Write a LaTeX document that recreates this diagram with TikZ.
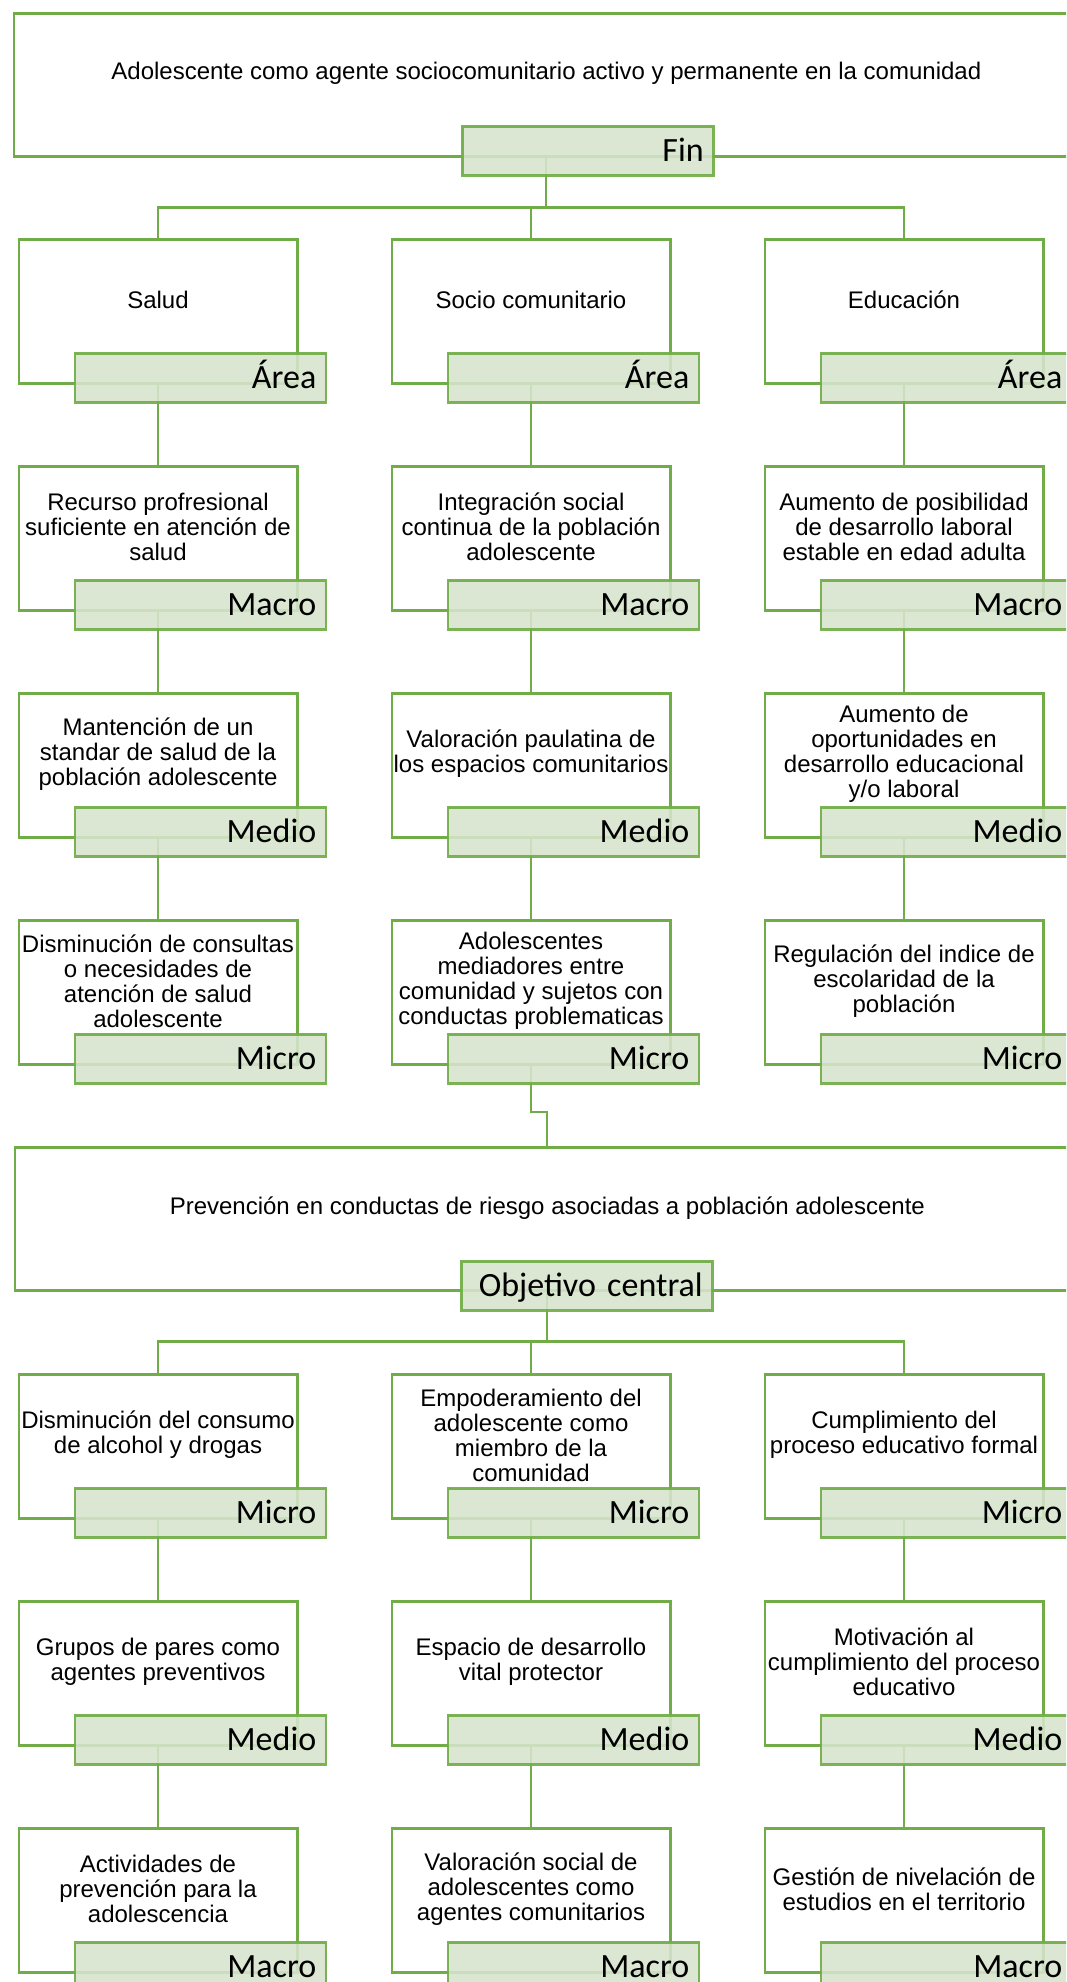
\documentclass[tikz,border=0pt]{standalone}
\usepackage{fontspec}
\setmainfont{Liberation Sans}
\newfontfamily\labfont{Carlito}
\usetikzlibrary{calc}
\definecolor{gline}{RGB}{112,173,71}
\definecolor{gfill}{RGB}{215,228,206}
\tikzset{
  cellbox/.style={draw=gline, line width=2.5pt, fill=white, minimum width=278.5pt, minimum height=144pt, inner sep=0pt},
  bigbox/.style={cellbox, minimum width=1065pt, minimum height=143pt},
  celltext/.style={align=center, inner sep=0pt, font=\fontsize{24}{25}\selectfont},
  celllab/.style={draw=gline, line width=2.5pt, fill=gfill, fill opacity=0.88, draw opacity=0.92, text opacity=1,
    minimum width=251pt, minimum height=49pt, text width=232pt, inner xsep=9.5pt, inner ysep=0pt,
    align=right, font=\labfont\fontsize{34}{35}\selectfont, text height=22pt, text depth=0pt},
  conn/.style={draw=gline, line width=2.2pt}
}
\newcommand\mkbox[3]{\node[cellbox, anchor=north west] (#1) at (#2,#3) {};}
\newcommand\mktext[3]{%
  \node[celltext] (#1t) at ($(#1.north)+(0,62)$) {#2};
  \node[celllab, anchor=north west] (#1l) at ($(#1.south west)+(56,-32.5)$) {#3};}
\begin{document}
\begin{tikzpicture}[x=1pt,y=-1pt]
\useasboundingbox (0,0) rectangle (1066,1982);
\clip (0,0) rectangle (1066,1982);
\fill[white] (0,0) rectangle (1066,1982);
% ---- boxes
\node[bigbox, anchor=north west] (fin) at (12.6,12) {};
\mkbox{b11}{17.5}{238}\mkbox{b12}{390.5}{238}\mkbox{b13}{763.5}{238}
\mkbox{b21}{17.5}{465}\mkbox{b22}{390.5}{465}\mkbox{b23}{763.5}{465}
\mkbox{b31}{17.5}{692}\mkbox{b32}{390.5}{692}\mkbox{b33}{763.5}{692}
\mkbox{b41}{17.5}{919}\mkbox{b42}{390.5}{919}\mkbox{b43}{763.5}{919}
\node[bigbox, anchor=north west] (obj) at (13.6,1146) {};
\mkbox{b51}{17.5}{1373}\mkbox{b52}{390.5}{1373}\mkbox{b53}{763.5}{1373}
\mkbox{b61}{17.5}{1600}\mkbox{b62}{390.5}{1600}\mkbox{b63}{763.5}{1600}
\mkbox{b71}{17.5}{1827}\mkbox{b72}{390.5}{1827}\mkbox{b73}{763.5}{1827}
% ---- connectors
\coordinate (bus1) at ($(fin.south)+(0,50)$);
\draw[conn] (fin.south) -- (bus1);
\draw[conn] (bus1) -| (b11.north);
\draw[conn] (bus1) -| (b12.north);
\draw[conn] (bus1) -| (b13.north);
\foreach \c in {1,2,3}{
  \draw[conn] (b1\c.south) -- (b2\c.north);
  \draw[conn] (b2\c.south) -- (b3\c.north);
  \draw[conn] (b3\c.south) -- (b4\c.north);
  \draw[conn] (b5\c.south) -- (b6\c.north);
  \draw[conn] (b6\c.south) -- (b7\c.north);
}
\coordinate (jog) at ($(obj.north)+(0,-34)$);
\draw[conn] (b42.south) |- (jog) -- (obj.north);
\coordinate (bus2) at ($(obj.south)+(0,50)$);
\draw[conn] (obj.south) -- (bus2);
\draw[conn] (bus2) -| (b51.north);
\draw[conn] (bus2) -| (b52.north);
\draw[conn] (bus2) -| (b53.north);
% ---- texts and labels
\node[celltext] (fint) at ($(fin.north)+(0,61.5)$) {Adolescente como agente sociocomunitario activo y permanente en la comunidad};
\node[celllab, anchor=north west] (finl) at ($(fin.south west)+(448.4,-32.5)$) {Fin};
\mktext{b11}{Salud}{Área}
\mktext{b12}{Socio comunitario}{Área}
\mktext{b13}{Educación}{Área}
\mktext{b21}{Recurso profresional\\suficiente en atención de\\salud}{Macro}
\mktext{b22}{Integración social\\continua de la población\\adolescente}{Macro}
\mktext{b23}{Aumento de posibilidad\\de desarrollo laboral\\estable en edad adulta}{Macro}
\mktext{b31}{Mantención de un\\standar de salud de la\\población adolescente}{Medio}
\mktext{b32}{Valoración paulatina de\\los espacios comunitarios}{Medio}
\mktext{b33}{Aumento de\\oportunidades en\\desarrollo educacional\\y/o laboral}{Medio}
\mktext{b41}{Disminución de consultas\\o necesidades de\\atención de salud\\adolescente}{Micro}
\mktext{b42}{Adolescentes\\mediadores entre\\comunidad y sujetos con\\conductas problematicas}{Micro}
\mktext{b43}{Regulación del indice de\\escolaridad de la\\población}{Micro}
\node[celltext] (objt) at ($(obj.north)+(0,62)$) {Prevención en conductas de riesgo asociadas a población adolescente};
\node[celllab, anchor=north west] (objl) at ($(obj.south west)+(446.4,-31.5)$) {Objetivo central};
\mktext{b51}{Disminución del consumo\\de alcohol y drogas}{Micro}
\mktext{b52}{Empoderamiento del\\adolescente como\\miembro de la\\comunidad}{Micro}
\mktext{b53}{Cumplimiento del\\proceso educativo formal}{Micro}
\mktext{b61}{Grupos de pares como\\agentes preventivos}{Medio}
\mktext{b62}{Espacio de desarrollo\\vital protector}{Medio}
\mktext{b63}{Motivación al\\cumplimiento del proceso\\educativo}{Medio}
\mktext{b71}{Actividades de\\prevención para la\\adolescencia}{Macro}
\mktext{b72}{Valoración social de\\adolescentes como\\agentes comunitarios}{Macro}
\mktext{b73}{Gestión de nivelación de\\estudios en el territorio}{Macro}
\end{tikzpicture}
\end{document}
